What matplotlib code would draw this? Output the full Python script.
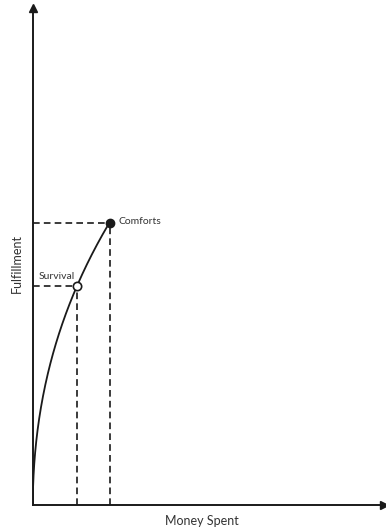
import matplotlib
matplotlib.use('Agg')
import matplotlib.pyplot as plt
import numpy as np

# curve (money spent vs fulfillment, axes run 0-100)
money = [0, 0.14, 0.85, 2.28, 4.27, 7.12, 12.5, 17.1, 21.9]
fulfil = [0, 6.4, 13.1, 19.7, 26.6, 33.2, 44.1, 51.3, 56.7]
point_names = ['Survival', 'Comforts']
point_x = [12.5, 21.9]
point_y = [44.1, 56.7]

plt.rcParams['font.family'] = ['Lato', 'DejaVu Sans']

fig = plt.figure(figsize=(3.86, 5.31), dpi=100)
ax = fig.add_axes([33 / 386, 26 / 531, 351 / 386, 497 / 531])
ax.set_xlim(0, 100)
ax.set_ylim(0, 100)

ink = '#1a1a1a'
for side in ['top', 'right']:
    ax.spines[side].set_visible(False)
for side in ['left', 'bottom']:
    ax.spines[side].set_color(ink)
    ax.spines[side].set_linewidth(1.4)
ax.set_xticks([])
ax.set_yticks([])

# arrow heads on the axes
ax.plot(1, 0, '>', color=ink, ms=6, transform=ax.transAxes, clip_on=False)
ax.plot(0, 1, '^', color=ink, ms=6, transform=ax.transAxes, clip_on=False)

# smooth curve: money as a cubic in fulfillment, fitted through the read points
coef = np.polyfit(fulfil, money, 3)
ys = np.linspace(0, fulfil[-1], 200)
xs = np.clip(np.polyval(coef, ys), 0, None)
xs[0] = 0
ax.plot(xs, ys, color=ink, lw=1.3, solid_capstyle='round')

# dashed guides
for px, py in zip(point_x, point_y):
    ax.plot([0, px], [py, py], color=ink, lw=1.2, ls=(0, (4, 2.5)))
    ax.plot([px, px], [0, py], color=ink, lw=1.2, ls=(0, (4, 2.5)))

ax.plot(point_x[0], point_y[0], 'o', mfc='white', mec=ink, ms=6, mew=1.2, zorder=5)
ax.plot(point_x[1], point_y[1], 'o', mfc=ink, mec=ink, ms=6, zorder=5)

ax.text(point_x[0] - 0.5, point_y[0] + 1.0, point_names[0], fontsize=7.5,
        color='#333333', ha='right', va='bottom')
ax.text(point_x[1] + 2.5, point_y[1] + 0.3, point_names[1], fontsize=7.5,
        color='#333333', ha='left', va='center')

fig.text(17 / 386, 1 - 263 / 531, 'Fulfillment', rotation=90, fontsize=9,
         color='#333333', ha='center', va='center')
fig.text(202 / 386, 1 - 521 / 531, 'Money Spent', fontsize=9,
         color='#333333', ha='center', va='center')

fig.savefig('out.png', dpi=100)
